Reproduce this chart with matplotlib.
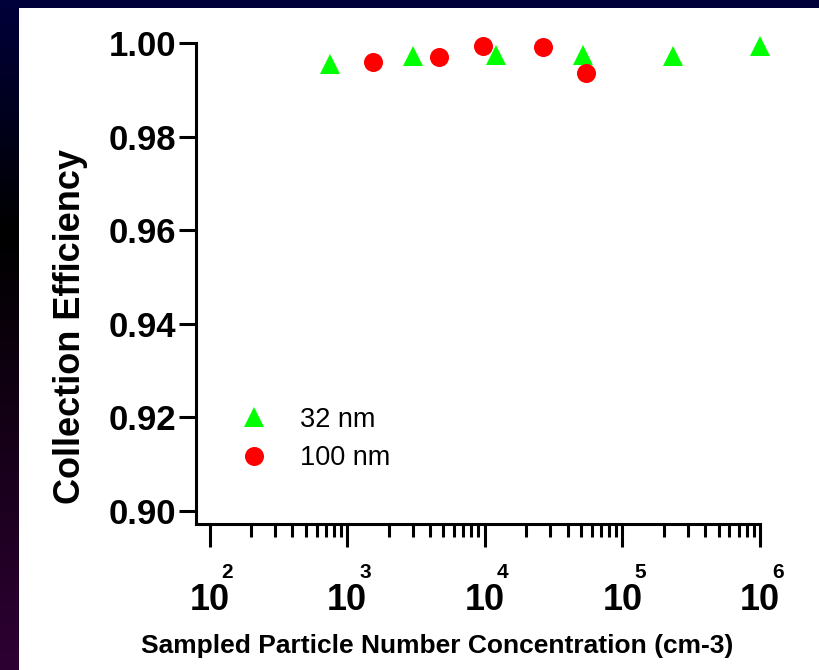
import matplotlib
matplotlib.use("Agg")
import matplotlib.pyplot as plt
import numpy as np
from matplotlib.ticker import FixedLocator, NullFormatter, FixedFormatter

plt.rcParams['font.family'] = ['Liberation Sans', 'DejaVu Sans']

# sampled concentration (cm-3) and collection efficiency per particle size
conc_32nm = [754, 3022, 12080, 51400, 232300, 1000000]
eff_32nm = [0.9956, 0.9973, 0.9974, 0.9975, 0.9973, 0.9995]
conc_100nm = [1530, 4616, 9690, 26540, 54040]
eff_100nm = [0.9959, 0.9971, 0.9995, 0.9992, 0.9937]

x_decades = [2, 3, 4, 5, 6]
y_ticks = [0.90, 0.92, 0.94, 0.96, 0.98, 1.00]

W, H = 819, 670
fig = plt.figure(figsize=(W / 100, H / 100), dpi=100, facecolor='white')

# dark slide border: gradient strip on the left, flat band on top
grad = np.array([[0.00, 0.00, 0.23],
                 [0.00, 0.00, 0.00],
                 [0.18, 0.00, 0.20]])
t = np.linspace(0, 1, 300)
cols = np.stack([np.interp(t, [0, 0.35, 1], grad[:, i]) for i in range(3)], axis=1)
bax = fig.add_axes([0, 0, 19 / W, 1])
bax.imshow(cols[:, None, :], aspect='auto', extent=[0, 1, 0, 1], origin='upper')
bax.axis('off')
tax = fig.add_axes([0, 1 - 8 / H, 1, 8 / H])
tax.set_facecolor('#00003a')
tax.set_xticks([])
tax.set_yticks([])
for s in tax.spines.values():
    s.set_visible(False)

left, right, top, bottom = 195.7, 760, 43.3, 524
ax = fig.add_axes([left / W, 1 - bottom / H, (right - left) / W, (bottom - top) / H])

ax.plot(conc_32nm, eff_32nm, '^', color='#00ff00', ms=15, mew=0,
        label='32 nm', clip_on=False, zorder=3)
ax.plot(conc_100nm, eff_100nm, 'o', color='#ff0000', ms=13.7, mew=0,
        label='100 nm', clip_on=False, zorder=3)

ax.set_xscale('log')
ax.set_xlim(10 ** 1.8997, 1e6)
ax.set_ylim(0.89718, 1.00)

for s in ['top', 'right']:
    ax.spines[s].set_visible(False)
for s in ['left', 'bottom']:
    ax.spines[s].set_linewidth(2.2)

ax.yaxis.set_major_locator(FixedLocator(y_ticks))
ax.set_yticklabels(['%.2f' % v for v in y_ticks], fontsize=25, fontweight='bold')
ax.tick_params(axis='y', length=12, width=2.2, pad=2)

# minor ticks only between the labelled decades
minor = [m * 10.0 ** d for d in x_decades[:-1] for m in range(2, 10)]
ax.xaxis.set_major_locator(FixedLocator([10.0 ** d for d in x_decades]))
ax.xaxis.set_major_formatter(FixedFormatter(['10'] * len(x_decades)))
ax.xaxis.set_minor_locator(FixedLocator(minor))
ax.xaxis.set_minor_formatter(NullFormatter())
ax.tick_params(axis='x', which='major', length=16.5, width=2.2, pad=26,
               labelsize=26)
ax.tick_params(axis='x', which='minor', length=9.4, width=2.2)
for lab in ax.get_xticklabels():
    lab.set_fontweight('bold')

# exponents sit above the upper right of each "10"
for d in x_decades:
    ax.annotate(str(d), xy=(10.0 ** d, 0), xycoords=('data', 'axes fraction'),
                xytext=(13, -35), textcoords='offset points',
                ha='center', va='center', fontsize=15, fontweight='bold')

ax.set_ylabel('Collection Efficiency', fontsize=26, fontweight='bold')
ax.yaxis.set_label_coords(-0.191, 0.41)
ax.set_xlabel('Sampled Particle Number Concentration (cm-3)', fontsize=19,
              fontweight='bold')
ax.xaxis.set_label_coords(0.428, -0.229)

ax.legend(loc='center left', bbox_to_anchor=(0.0555, 0.177), frameon=False,
          fontsize=19.5, borderpad=0, handlelength=2, handletextpad=0.7,
          labelspacing=0.47, borderaxespad=0)

fig.savefig('out.png', dpi=100, facecolor='white')
